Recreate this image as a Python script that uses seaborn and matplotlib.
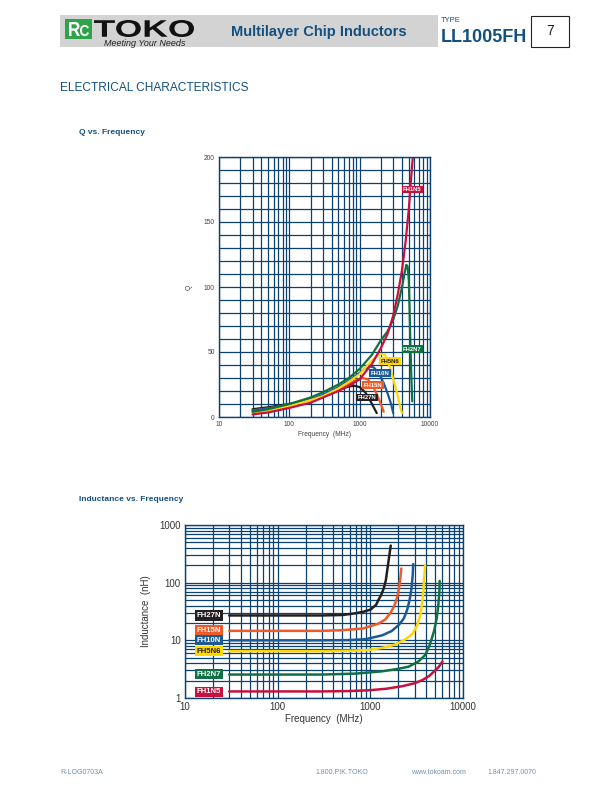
import numpy as np
import pandas as pd
import matplotlib
matplotlib.use("Agg")
import matplotlib.pyplot as plt
import matplotlib.ticker as mticker
from matplotlib.patches import Rectangle, PathPatch
from matplotlib.textpath import TextPath
from matplotlib.font_manager import FontProperties
from matplotlib.transforms import Affine2D
import seaborn as sns

sns.set_style("white")
plt.rcParams['font.family'] = ['Liberation Sans', 'DejaVu Sans']

# ---------------- data ----------------
series = ["FH27N", "FH15N", "FH10N", "FH5N6", "FH2N7", "FH1N5"]
colors = {"FH27N": "#231F20", "FH15N": "#F05A28", "FH10N": "#1B5A96",
          "FH5N6": "#FFD800", "FH2N7": "#0F7143", "FH1N5": "#C8103E"}
text_colors = {"FH27N": "white", "FH15N": "white", "FH10N": "white",
               "FH5N6": "#231F20", "FH2N7": "white", "FH1N5": "white"}

# Q vs frequency (MHz, Q)
q_freq = {
    "FH27N": [30, 50, 100, 200, 300, 500, 700, 850, 1000, 1200, 1400, 1600, 1750],
    "FH15N": [30, 50, 100, 200, 300, 500, 700, 900, 1100, 1300, 1500, 1700, 1900, 2100, 2200],
    "FH10N": [30, 50, 100, 200, 300, 500, 700, 1000, 1200, 1400, 1600, 1900, 2200, 2500, 2800, 3000],
    "FH5N6": [30, 50, 100, 200, 300, 500, 700, 1000, 1300, 1600, 2000, 2300, 2700, 3000, 3300, 3600, 3800, 4000],
    "FH2N7": [30, 50, 100, 200, 300, 500, 700, 1000, 1500, 2000, 2500, 3000, 3500, 4000, 4400, 4600, 4800, 5000, 5150, 5300, 5450, 5600],
    "FH1N5": [30, 50, 100, 200, 300, 500, 700, 1000, 1500, 2000, 2500, 3000, 3500, 4000, 4500, 5000, 5500, 5900],
}
q_vals = {
    "FH27N": [6, 7.5, 10, 13.5, 16.5, 21, 23.5, 24, 23, 19, 13, 7, 3],
    "FH15N": [5, 6.5, 9.5, 13.5, 16.5, 21.5, 25.5, 28.5, 30, 29, 25, 19, 13, 7, 4],
    "FH10N": [5, 6.5, 9.5, 13.5, 17, 23, 28, 34, 37.5, 39, 38, 33, 26, 18, 10, 3],
    "FH5N6": [3.5, 5, 8.5, 13, 16, 22, 27, 33, 40, 45, 48.5, 48, 38, 29, 21, 13, 7, 3],
    "FH2N7": [4, 6, 10, 15, 19, 25, 30, 37, 48, 59, 66, 75, 86, 100, 112, 117, 116, 105, 78, 50, 28, 12],
    "FH1N5": [2, 3.5, 7, 11, 15, 20, 24, 29, 41, 53, 64, 78, 95, 113, 135, 160, 190, 210],
}
q_label_pos = {"FH1N5": (5600, 175), "FH2N7": (5600, 52), "FH5N6": (2700, 43),
               "FH10N": (1950, 33.7), "FH15N": (1560, 24.4), "FH27N": (1270, 15)}

# Inductance vs frequency (MHz, nH)
l_freq = {
    "FH27N": [30, 100, 300, 500, 700, 850, 1000, 1150, 1230, 1320, 1400, 1470, 1530, 1600, 1660],
    "FH15N": [30, 100, 300, 500, 830, 1230, 1450, 1650, 1820, 1960, 2050, 2100, 2160],
    "FH10N": [30, 100, 300, 600, 900, 1340, 1700, 2030, 2300, 2500, 2650, 2750, 2800, 2870, 2900],
    "FH5N6": [30, 100, 300, 600, 960, 1400, 1880, 2400, 2850, 3200, 3500, 3650, 3750, 3800, 3900],
    "FH2N7": [30, 100, 300, 700, 1340, 2000, 2600, 3300, 3930, 4400, 4900, 5200, 5400, 5550, 5600],
    "FH1N5": [30, 100, 300, 600, 960, 1500, 2200, 3000, 3650, 4300, 4900, 5500, 6000],
}
l_vals = {
    "FH27N": [27, 27, 27, 27.5, 29.5, 31.5, 34, 41, 51, 63, 81, 110, 175, 290, 440],
    "FH15N": [14.6, 14.6, 14.6, 15, 16, 19.5, 23, 30, 40, 58, 85, 115, 176],
    "FH10N": [10, 10, 10, 10.1, 10.5, 12.2, 14.5, 18.5, 24, 34, 50, 70, 87, 140, 210],
    "FH5N6": [6.5, 6.5, 6.5, 6.6, 6.8, 7.5, 8.5, 10.5, 13, 18, 29.5, 50, 80, 114, 200],
    "FH2N7": [2.55, 2.55, 2.55, 2.65, 2.9, 3.2, 3.5, 4.3, 5.6, 8.5, 15, 24, 39, 65, 107],
    "FH1N5": [1.3, 1.3, 1.3, 1.32, 1.36, 1.45, 1.6, 1.8, 2.05, 2.4, 2.9, 3.5, 4.3],
}
l_label_pos = {"FH27N": (18.2, 27), "FH15N": (18.2, 15), "FH10N": (18.2, 10),
               "FH5N6": (18.2, 6.5), "FH2N7": (18.2, 2.6), "FH1N5": (18.2, 1.28)}

freq_ticks = [10, 100, 1000, 10000]
freq_tick_labels = ["10", "100", "1000", "10000"]
q_ticks = [0, 50, 100, 150, 200]
l_ticks = [1, 10, 100, 1000]

# ---------------- figure ----------------
W, H = 612, 792
fig = plt.figure(figsize=(W / 100, H / 100), dpi=100)
fig.patch.set_facecolor("white")
navy = "#0B4170"
hblue = "#14507E"


def fx(x):
    return x / W


def fy(y):
    return 1 - y / H


def axes_px(l, t, r, b):
    return fig.add_axes([fx(l), fy(b), (r - l) / W, (b - t) / H])


def boxed_text(s, left, top, right, bottom, color, weight="bold", style="normal"):
    """Draw text stretched into a pixel box (figure pixel coords, y from top)."""
    tp = TextPath((0, 0), s, size=1,
                  prop=FontProperties(family="Liberation Sans", weight=weight, style=style))
    bb = tp.get_extents()
    tr = (Affine2D().translate(-bb.x0, -bb.y0)
          .scale((right - left) / bb.width / W, (bottom - top) / bb.height / H)
          .translate(fx(left), fy(bottom)))
    path = tr.transform_path(tp)
    fig.patches.append(PathPatch(path, transform=fig.transFigure, fc=color, ec="none"))


# header
fig.patches.append(Rectangle((fx(60), fy(47)), (438 - 60) / W, 32 / H,
                             transform=fig.transFigure, fc="#D3D3D3", ec="none"))
fig.patches.append(Rectangle((fx(65), fy(39)), 27 / W, 20 / H,
                             transform=fig.transFigure, fc="#2EA34A", ec="none"))
boxed_text("R", 69, 22, 80, 36, "white")
boxed_text("C", 80, 25, 89, 36, "white")
boxed_text("TOKO", 94, 20, 194, 37, "#111111")
fig.text(fx(145), fy(43), "Meeting Your Needs", color="#222222", fontsize=6.5,
         style="italic", ha="center", va="center")
fig.text(fx(319), fy(32), "Multilayer Chip Inductors", color=hblue, fontsize=10.5,
         fontweight="bold", ha="center", va="center")
fig.text(fx(441), fy(21), "TYPE", color=hblue, fontsize=5.5, ha="left", va="center")
fig.text(fx(441), fy(37), "LL1005FH", color=hblue, fontsize=13, fontweight="bold",
         ha="left", va="center")
fig.patches.append(Rectangle((fx(531), fy(47)), 38 / W, 31 / H,
                             transform=fig.transFigure, fc="white", ec="#222222", lw=0.8))
fig.text(fx(550), fy(31), "7", color="#222222", fontsize=10, ha="center", va="center")

fig.text(fx(60), fy(88), "ELECTRICAL CHARACTERISTICS", color=hblue, fontsize=8.6,
         ha="left", va="center")
fig.text(fx(79), fy(132), "Q vs. Frequency", color=hblue, fontsize=6, fontweight="bold",
         ha="left", va="center")
fig.text(fx(79), fy(500), "Inductance vs. Frequency", color=hblue, fontsize=6,
         fontweight="bold", ha="left", va="center")

# footer
fcol = "#6F8FAF"
fig.text(fx(60), fy(773), "R-LOG0703A", color=fcol, fontsize=5, ha="left", va="center")
fig.text(fx(315), fy(773), "1.800.PIK.TOKO", color=fcol, fontsize=5, ha="left", va="center")
fig.text(fx(411), fy(773), "www.tokoam.com", color=fcol, fontsize=5, ha="left", va="center")
fig.text(fx(487), fy(773), "1.847.297.0070", color=fcol, fontsize=5, ha="left", va="center")


def style_axes(ax):
    for s in ax.spines.values():
        s.set_color(navy)
        s.set_linewidth(1.0)
    ax.grid(True, which="both", color=navy, lw=0.9)
    ax.set_axisbelow(True)
    ax.tick_params(which="both", length=0)


# ---------------- Q chart ----------------
axq = axes_px(219, 157, 430, 417)
for s in series:
    df = pd.DataFrame({"f": q_freq[s], "q": q_vals[s]})
    sns.lineplot(data=df, x="f", y="q", ax=axq, color=colors[s], lw=1.6,
                 sort=False, estimator=None, legend=False)
axq.set_xscale("log")
axq.set_xlim(10, 10000)
axq.set_ylim(0, 200)
axq.xaxis.set_major_locator(mticker.FixedLocator(freq_ticks))
axq.xaxis.set_major_formatter(mticker.FixedFormatter(freq_tick_labels))
axq.xaxis.set_minor_locator(mticker.LogLocator(base=10, subs=np.arange(2, 10)))
axq.xaxis.set_minor_formatter(mticker.NullFormatter())
axq.yaxis.set_major_locator(mticker.FixedLocator(q_ticks))
axq.yaxis.set_minor_locator(mticker.MultipleLocator(10))
style_axes(axq)
axq.tick_params(labelsize=4.8, labelcolor="#444444", pad=3)
axq.set_xlabel("Frequency  (MHz)", fontsize=4.8, color="#444444", labelpad=2)
axq.set_ylabel("Q", fontsize=4.8, color="#444444", labelpad=8)
for s in series:
    x, y = q_label_pos[s]
    axq.text(x, y, s, fontsize=4.2, fontweight="bold", color=text_colors[s],
             ha="center", va="center",
             bbox=dict(boxstyle="square,pad=0.25", fc=colors[s], ec="none"))

# ---------------- Inductance chart ----------------
axl = axes_px(185, 525, 463, 698)
for s in series:
    df = pd.DataFrame({"f": l_freq[s], "L": l_vals[s]})
    sns.lineplot(data=df, x="f", y="L", ax=axl, color=colors[s], lw=1.8,
                 sort=False, estimator=None, legend=False)
axl.set_xscale("log")
axl.set_yscale("log")
axl.set_xlim(10, 10000)
axl.set_ylim(1, 1000)
axl.xaxis.set_major_locator(mticker.FixedLocator(freq_ticks))
axl.xaxis.set_major_formatter(mticker.FixedFormatter(freq_tick_labels))
axl.xaxis.set_minor_locator(mticker.LogLocator(base=10, subs=np.arange(2, 10)))
axl.xaxis.set_minor_formatter(mticker.NullFormatter())
axl.yaxis.set_major_locator(mticker.FixedLocator(l_ticks))
axl.yaxis.set_major_formatter(mticker.FixedFormatter([str(v) for v in l_ticks]))
axl.yaxis.set_minor_locator(mticker.LogLocator(base=10, subs=np.arange(2, 10)))
axl.yaxis.set_minor_formatter(mticker.NullFormatter())
style_axes(axl)
axl.tick_params(labelsize=7, labelcolor="#333333", pad=3)
axl.set_xlabel("Frequency  (MHz)", fontsize=7, color="#333333", labelpad=1)
axl.set_ylabel("Inductance  (nH)", fontsize=7, color="#333333", labelpad=6)
for s in series:
    x, y = l_label_pos[s]
    axl.text(x, y, s, fontsize=5.6, fontweight="bold", color=text_colors[s],
             ha="center", va="center",
             bbox=dict(boxstyle="square,pad=0.2", fc=colors[s], ec="none"))

fig.savefig("out.png", dpi=100, facecolor="white")
